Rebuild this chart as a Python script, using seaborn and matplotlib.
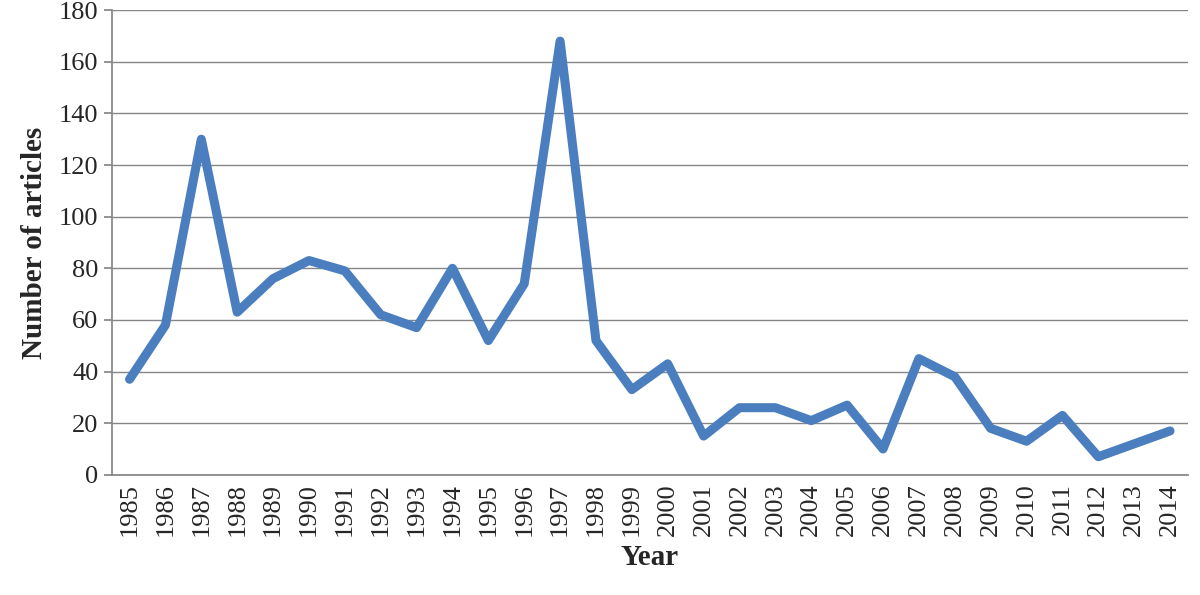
import matplotlib
matplotlib.use("Agg")
import matplotlib.pyplot as plt
import seaborn as sns
import numpy as np
import pandas as pd

years = [str(y) for y in range(1985, 2015)]
articles = [37, 58, 130, 63, 76, 83, 79, 62, 57, 80, 52, 74, 168, 52, 33, 43,
            15, 26, 26, 21, 27, 10, 45, 38, 18, 13, 23, 7, 12, 17]
yticks = list(range(0, 181, 20))

sns.set_theme(style="white")
plt.rcParams['font.family'] = ['Liberation Serif', 'DejaVu Serif']

df = pd.DataFrame({"pos": np.arange(len(years)), "val": articles})
fig = plt.figure(figsize=(12, 5.95), dpi=100)
ax = fig.add_axes([0.093, 0.202, 0.897, 0.781])
sns.lineplot(data=df, x="pos", y="val", ax=ax, color="#4A7EBF", linewidth=6.5,
             solid_joinstyle="round", solid_capstyle="round")
ax.set_xlim(-0.5, len(years) - 0.5)
ax.set_ylim(0, 180)
ax.set_yticks(yticks)
ax.set_xticks(np.arange(len(years)))
ax.set_xticklabels(years, rotation=90, fontsize=19)
ax.set_xticks(np.arange(-0.5, len(years), 1), minor=True)
ax.tick_params(axis="x", which="major", length=0, pad=6)
ax.tick_params(axis="x", which="minor", length=6, color="#868686", direction="out")
ax.tick_params(axis="y", labelsize=19, length=6, color="#868686", direction="out", left=True)
ax.yaxis.grid(True, color="#868686", linewidth=1)
for s in ["top", "right"]:
    ax.spines[s].set_visible(False)
for s in ["left", "bottom"]:
    ax.spines[s].set_color("#868686")
ax.set_xlabel("Year", fontsize=21, fontweight="bold", labelpad=6)
ax.set_ylabel("Number of articles", fontsize=21, fontweight="bold", labelpad=8)
fig.savefig("out.png", dpi=100)
